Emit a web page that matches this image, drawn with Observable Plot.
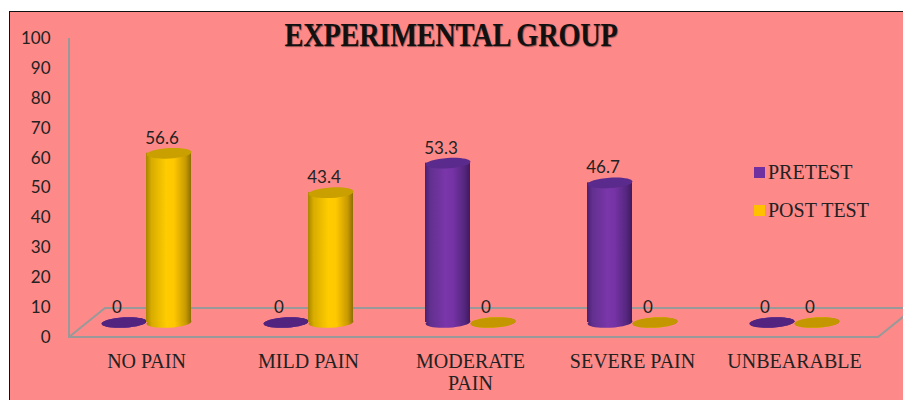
<!DOCTYPE html>
<html>
<head>
<meta charset="utf-8">
<script src="https://cdn.jsdelivr.net/npm/d3@7"></script>
<script src="https://cdn.jsdelivr.net/npm/@observablehq/plot@0.6"></script>
<style>
  html, body { margin: 0; padding: 0; background: #fff; }
  #wrap { position: relative; width: 903px; height: 400px; overflow: hidden; background: #fff; }
  #bg { position: absolute; left: 9px; top: 11px; right: -10px; bottom: -10px; background: #FD8989; border-top: 1px solid #111; border-left: 1px solid #111; }
  #chart { position: absolute; left: 0; top: 0; }
  #title { position: absolute; left: 451px; top: 19px; font-family: "Liberation Serif", serif; font-weight: bold; font-size: 33px; line-height: 33px; color: #111; white-space: nowrap; transform: translateX(-50%) scaleX(0.86); text-shadow: 1px 1px 1px rgba(0,0,0,0.45); letter-spacing: -0.3px; }
  .leg { position: absolute; left: 754px; font-family: "Liberation Serif", serif; font-size: 20px; color: #222; line-height: 20px; white-space: nowrap; }
  .leg span { display: inline-block; width: 11px; height: 11px; margin-right: 3px; vertical-align: 1px; }
</style>
</head>
<body>
<div id="wrap">
  <div id="bg"></div>
  <div id="chart"></div>
  <div id="title">EXPERIMENTAL GROUP</div>
  <div class="leg" id="leg1" style="top:162px"><span style="background:#7030A0"></span>PRETEST</div>
  <div class="leg" id="leg2" style="top:200px"><span style="background:#FFC000"></span>POST TEST</div>
</div>
<script>
const categories = ["NO PAIN", "MILD PAIN", "MODERATE PAIN", "SEVERE PAIN", "UNBEARABLE"];
const pretest = [0, 0, 53.3, 46.7, 0];
const posttest = [56.6, 43.4, 0, 0, 0];
const yTicks = [0, 10, 20, 30, 40, 50, 60, 70, 80, 90, 100];
const seriesNames = ["PRETEST", "POST TEST"];

const data = [];
categories.forEach((c, i) => {
  data.push({category: c, series: "PRETEST", value: pretest[i]});
  data.push({category: c, series: "POST TEST", value: posttest[i]});
});
const pre = data.filter(d => d.series === "PRETEST");
const post = data.filter(d => d.series === "POST TEST");

function ellipse(rx, ry, angle) {
  const k = 0.5523, c = Math.cos(angle), s = Math.sin(angle);
  const P = (x, y) => [x * c - y * s, x * s + y * c];
  return {
    draw(ctx) {
      ctx.moveTo(...P(rx, 0));
      ctx.bezierCurveTo(...P(rx, k * ry), ...P(k * rx, ry), ...P(0, ry));
      ctx.bezierCurveTo(...P(-k * rx, ry), ...P(-rx, k * ry), ...P(-rx, 0));
      ctx.bezierCurveTo(...P(-rx, -k * ry), ...P(-k * rx, -ry), ...P(0, -ry));
      ctx.bezierCurveTo(...P(k * rx, -ry), ...P(rx, -k * ry), ...P(rx, 0));
      ctx.closePath();
    }
  };
}
const ell = ellipse(22.5, 5.2, -0.06);
const off = 22.5;

function floor3d(index, scales, values, dims) {
  const {marginLeft, marginRight, width} = dims;
  const y0 = scales.y(0);
  const front = y0 + 15, back = y0 - 14, depth = 36;
  const xl = marginLeft + 4, xr = width - marginRight + 3;
  const top = scales.y(100) + 15;
  const g = d3.create("svg:g");
  g.append("path")
    .attr("fill", "none").attr("stroke", "#999").attr("stroke-width", 2)
    .attr("d", `M${xl},${top}V${front}H${xr}L${xr + depth},${back}M${xl},${front}L${xl + depth},${back}H${xr + depth}`);
  return g.node();
}

const labelStyle = {fontFamily: "Lato, sans-serif", fontSize: 17, fill: "#222"};

const plot = Plot.plot({
  width: 903,
  height: 400,
  marginLeft: 65,
  marginRight: 28,
  marginTop: 23,
  marginBottom: 78,
  style: {background: "transparent", overflow: "visible"},
  x: {type: "band", domain: categories, padding: 0},
  y: {domain: [0, 100]},
  marks: [
    floor3d,
    Plot.axisY({ticks: yTicks, tickSize: 0, tickPadding: 15, dy: 15, fontSize: 17, fontFamily: "Lato, sans-serif", fill: "#222", label: null}),
    Plot.axisX({tickSize: 0, tickPadding: 30, fontSize: 20, fontFamily: "Liberation Serif, serif", fill: "#222", lineHeight: 1.1, label: null,
      tickFormat: d => d === "MODERATE PAIN" ? "MODERATE\nPAIN" : d}),
    // pretest
    Plot.dot(pre, {x: "category", y: () => 0, dx: -off, symbol: ell, r: 1, fill: "url(#gPur)", stroke: "none"}),
    Plot.barY(pre, {x: "category", y: "value", insetLeft: 36, insetRight: 81, fill: "url(#gPur)"}),
    Plot.dot(pre, {x: "category", y: "value", dx: -off, symbol: ell, r: 1, fill: d => d.value === 0 ? "#522480" : "#5A2A8C", stroke: "none"}),
    // post test
    Plot.dot(post, {x: "category", y: () => 0, dx: off, symbol: ell, r: 1, fill: "url(#gYel)", stroke: "none"}),
    Plot.barY(post, {x: "category", y: "value", insetLeft: 81, insetRight: 36, fill: "url(#gYel)"}),
    Plot.dot(post, {x: "category", y: "value", dx: off, symbol: ell, r: 1, fill: d => d.value === 0 ? "#C49600" : "#C9A000", stroke: "none"}),
    // labels
    Plot.text(pre, {x: "category", y: "value", text: d => String(d.value), dx: -off - 7, dy: -15, ...labelStyle}),
    Plot.text(post, {x: "category", y: "value", text: d => String(d.value), dx: off - 7, dy: -15, ...labelStyle})
  ]
});

const svg = d3.select(plot);
const defs = svg.insert("defs", ":first-child");
const gy = defs.append("linearGradient").attr("id", "gYel").attr("x1", 0).attr("x2", 1).attr("y1", 0).attr("y2", 0);
[[0, "#A88400"], [0.12, "#D8AC00"], [0.45, "#FFCC00"], [0.62, "#FFC800"], [0.88, "#C89A00"], [1, "#8E6E00"]]
  .forEach(([o, c]) => gy.append("stop").attr("offset", o).attr("stop-color", c));
const gp = defs.append("linearGradient").attr("id", "gPur").attr("x1", 0).attr("x2", 1).attr("y1", 0).attr("y2", 0);
[[0, "#4A2070"], [0.12, "#62308F"], [0.45, "#7A36AA"], [0.62, "#7533A5"], [0.88, "#55267E"], [1, "#40195F"]]
  .forEach(([o, c]) => gp.append("stop").attr("offset", o).attr("stop-color", c));

document.getElementById("chart").appendChild(plot);
</script>
</body>
</html>
